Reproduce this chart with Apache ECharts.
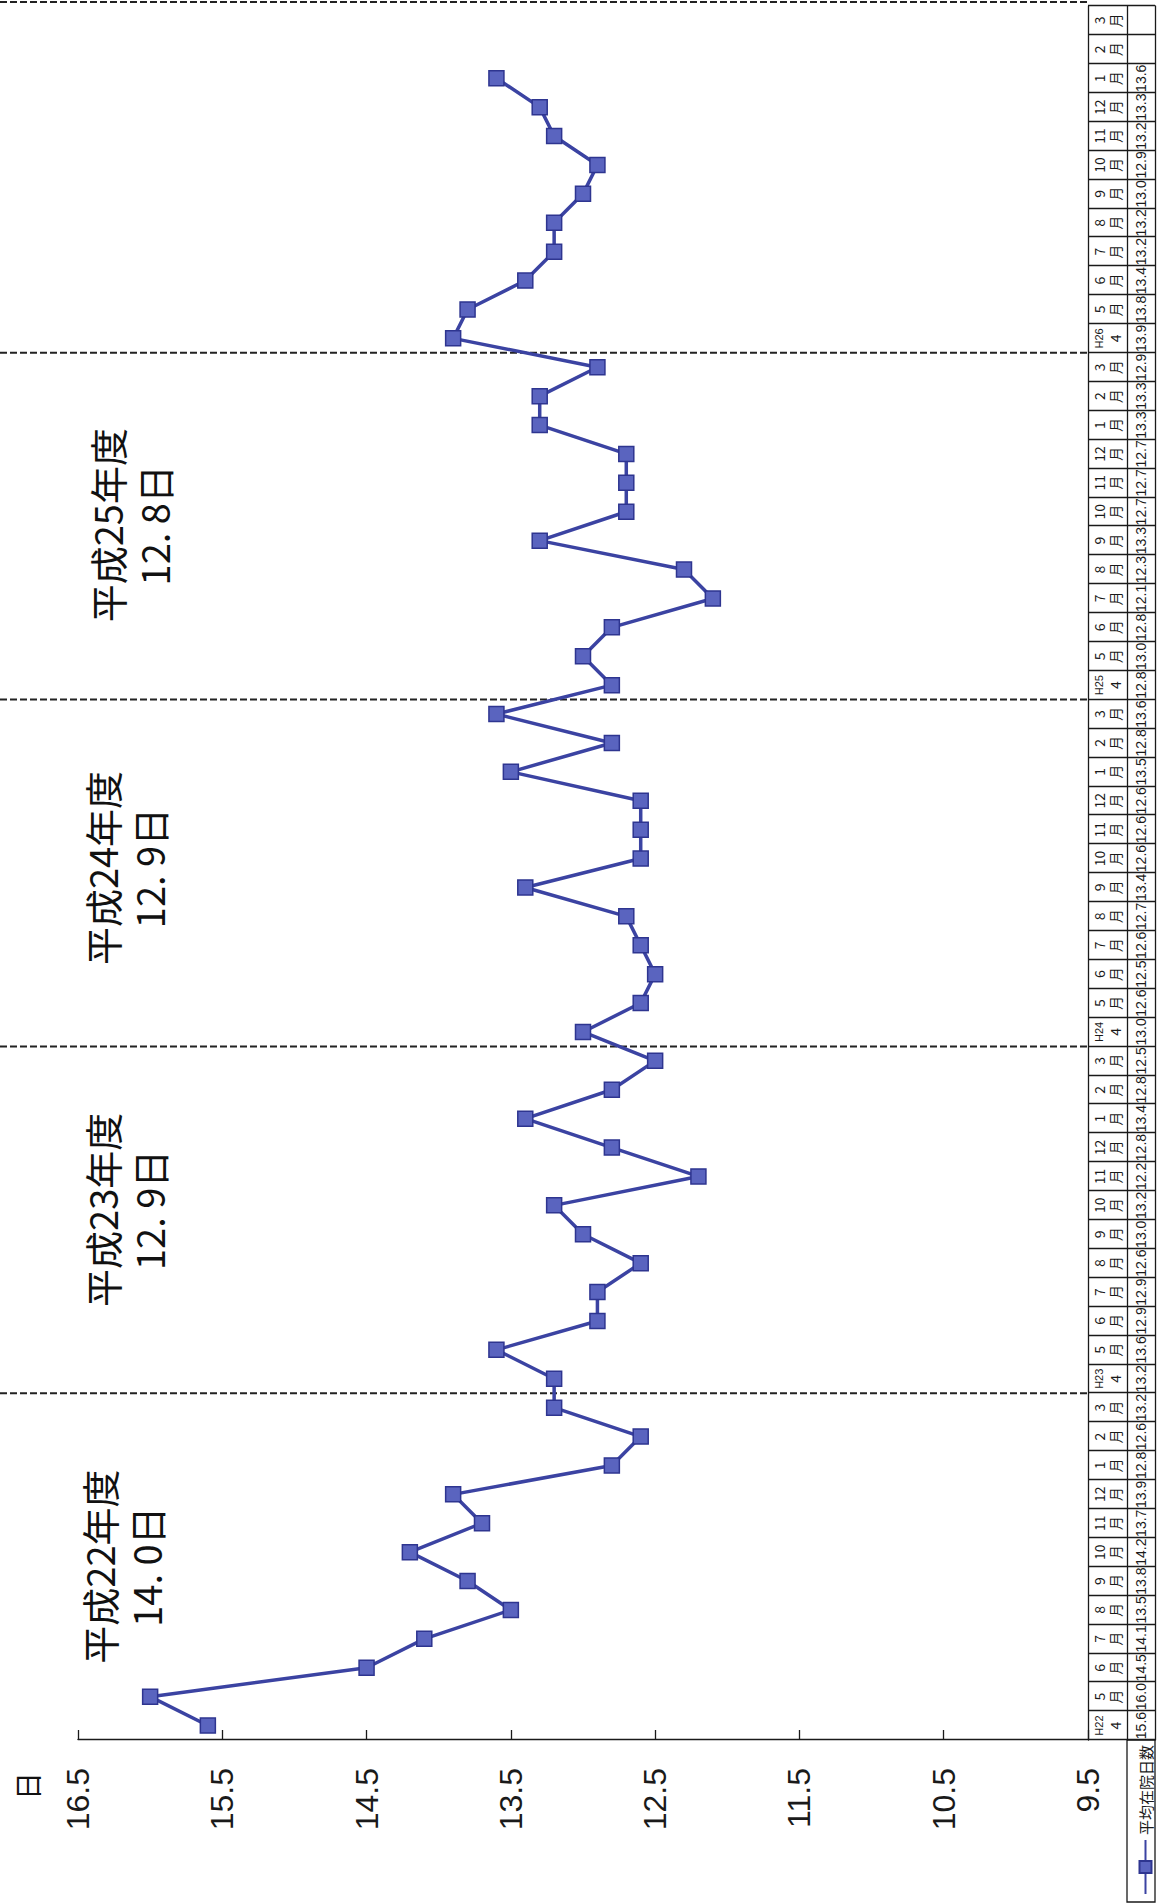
<!DOCTYPE html>
<html>
<head>
<meta charset="utf-8">
<script src="https://cdn.jsdelivr.net/npm/echarts@6/dist/echarts.min.js"></script>
<style>
html,body{margin:0;padding:0;width:1159px;height:1903px;overflow:hidden;background:#fff}
#wrap{position:absolute;left:0;top:0;width:1903px;height:1159px;transform-origin:0 0;transform:translate(0,1903px) rotate(-90deg)}
#chart{width:1903px;height:1159px;background:#fff}
</style>
</head>
<body>
<div id="wrap"><div id="chart"></div></div>
<script>
// ---- data ----
const fiscalYears = ['H22', 'H23', 'H24', 'H25', 'H26'];
const monthLabels = ['4', '5', '6', '7', '8', '9', '10', '11', '12', '1', '2', '3'];
const monthUnit = '月';
const valuesH22 = [15.6, 16.0, 14.5, 14.1, 13.5, 13.8, 14.2, 13.7, 13.9, 12.8, 12.6, 13.2];
const valuesH23 = [13.2, 13.6, 12.9, 12.9, 12.6, 13.0, 13.2, 12.2, 12.8, 13.4, 12.8, 12.5];
const valuesH24 = [13.0, 12.6, 12.5, 12.6, 12.7, 13.4, 12.6, 12.6, 12.6, 13.5, 12.8, 13.6];
const valuesH25 = [12.8, 13.0, 12.8, 12.1, 12.3, 13.3, 12.7, 12.7, 12.7, 13.3, 13.3, 12.9];
const valuesH26 = [13.9, 13.8, 13.4, 13.2, 13.2, 13.0, 12.9, 13.2, 13.3, 13.6, null, null];
const seriesName = '平均在院日数';
const unitLabel = '日';
const yearNoteTitles = ['平成22年度', '平成23年度', '平成24年度', '平成25年度'];
const yearNoteValues = ['14. 0日', '12. 9日', '12. 9日', '12. 8日'];
const valueMin = 9.5, valueMax = 16.5, valueStep = 1;

// ---- derived ----
const categories = [];
fiscalYears.forEach(fy => monthLabels.forEach(m => categories.push(fy + '-' + m)));
const values = [].concat(valuesH22, valuesH23, valuesH24, valuesH25, valuesH26);

const LAT = '"Liberation Sans", Arial, sans-serif';
const JP = '"Noto Sans CJK JP", "Noto Sans CJK SC", sans-serif';
const INK = '#1a1a1a';
const lineCol = { color: INK, width: 1.3 };

const chart = echarts.init(document.getElementById('chart'), null, { renderer: 'svg', width: 1903, height: 1159 });

const option = {
  animation: false,
  backgroundColor: '#fff',
  grid: { left: 163, right: 6, top: 78, bottom: 71, outerBoundsMode: 'none' },
  legend: {
    left: 3, top: 1133, itemWidth: 54, itemHeight: 15, itemGap: 4,
    textStyle: { fontSize: 15, fontFamily: JP, color: INK },
    data: [seriesName]
  },
  xAxis: [
    {
      type: 'category', data: categories, boundaryGap: true, position: 'bottom',
      axisLine: { show: true, lineStyle: lineCol },
      axisTick: { show: true, alignWithLabel: false, interval: 0, length: 67, lineStyle: lineCol },
      axisLabel: {
        interval: 0, margin: 3,
        formatter: (v, i) => (i % 12 === 0)
          ? '{s|' + fiscalYears[i / 12] + '}\n{m|' + monthLabels[0] + '}'
          : '{m|' + monthLabels[i % 12] + '}\n{m|' + monthUnit + '}',
        rich: {
          s: { fontSize: 11, lineHeight: 16, fontFamily: LAT, color: INK },
          m: { fontSize: 14, lineHeight: 16, fontFamily: JP, color: INK }
        }
      }
    },
    {
      type: 'category', data: categories, position: 'bottom', offset: 39,
      axisLine: { show: true, lineStyle: lineCol },
      axisTick: { show: false },
      axisLabel: {
        interval: 0, margin: 7, fontSize: 14, fontFamily: LAT, color: INK,
        formatter: (v, i) => values[i] == null ? '' : values[i].toFixed(1)
      }
    },
    {
      type: 'category', data: categories, position: 'bottom', offset: 67,
      axisLine: { show: true, lineStyle: lineCol },
      axisTick: { show: false }, axisLabel: { show: false }
    }
  ],
  yAxis: {
    type: 'value', min: valueMin, max: valueMax, interval: valueStep,
    axisLine: { show: true, lineStyle: lineCol },
    axisTick: { show: true, inside: true, length: 10, lineStyle: lineCol },
    splitLine: { show: false },
    axisLabel: { margin: 28, fontSize: 32, fontFamily: LAT, color: INK, formatter: v => v.toFixed(1) }
  },
  series: [{
    type: 'line', name: seriesName, data: values, xAxisIndex: 0,
    symbol: 'rect', symbolSize: 15, connectNulls: false,
    lineStyle: { color: '#3b43a2', width: 3.5 },
    itemStyle: { color: '#5a64bf', borderColor: '#2e3590', borderWidth: 1.5 },
    z: 5
  }]
};
chart.setOption(option);

// ---- decorations placed through the axes ----
const px = i => chart.convertToPixel({ xAxisIndex: 0 }, categories[i]);
const band = px(1) - px(0);
const botY = chart.convertToPixel({ yAxisIndex: 0 }, valueMin);
const graphics = [];
for (let k = 1; k <= fiscalYears.length; k++) {
  let x = (k < fiscalYears.length) ? px(12 * k) - band / 2 : 1901;
  graphics.push({
    type: 'line', silent: true, z: 1,
    shape: { x1: x, y1: 0, x2: x, y2: botY },
    style: { stroke: '#222', lineWidth: 2, lineDash: [7, 3] }
  });
}
const noteDx = [0, 10, 5, 1];
const noteY = [122, 125, 125, 130];
yearNoteTitles.forEach((t, k) => {
  const cx = (px(12 * k + 5) + px(12 * k + 6)) / 2 + noteDx[k];
  graphics.push({
    type: 'text', z: 10, silent: true,
    style: {
      text: t + '\n' + yearNoteValues[k], x: cx, y: noteY[k],
      align: 'center', verticalAlign: 'middle', textAlign: 'center', textVerticalAlign: 'middle',
      font: '38px ' + JP, fontSize: 38, fontFamily: JP, lineHeight: 47, fill: '#111'
    }
  });
});
graphics.push({
  type: 'text', z: 10, silent: true,
  style: { text: unitLabel, x: 117, y: 27, align: 'center', verticalAlign: 'middle',
    textAlign: 'center', textVerticalAlign: 'middle', fontSize: 28, fontFamily: JP, fill: '#111' }
});
// legend cell border of the data table
graphics.push({
  type: 'rect', silent: true, z: 1,
  shape: { x: 1, y: botY + 39, width: 163 - 1, height: 28 },
  style: { fill: 'none', stroke: INK, lineWidth: 1.3 }
});
chart.setOption({ graphic: { elements: graphics } });
</script>
</body>
</html>
